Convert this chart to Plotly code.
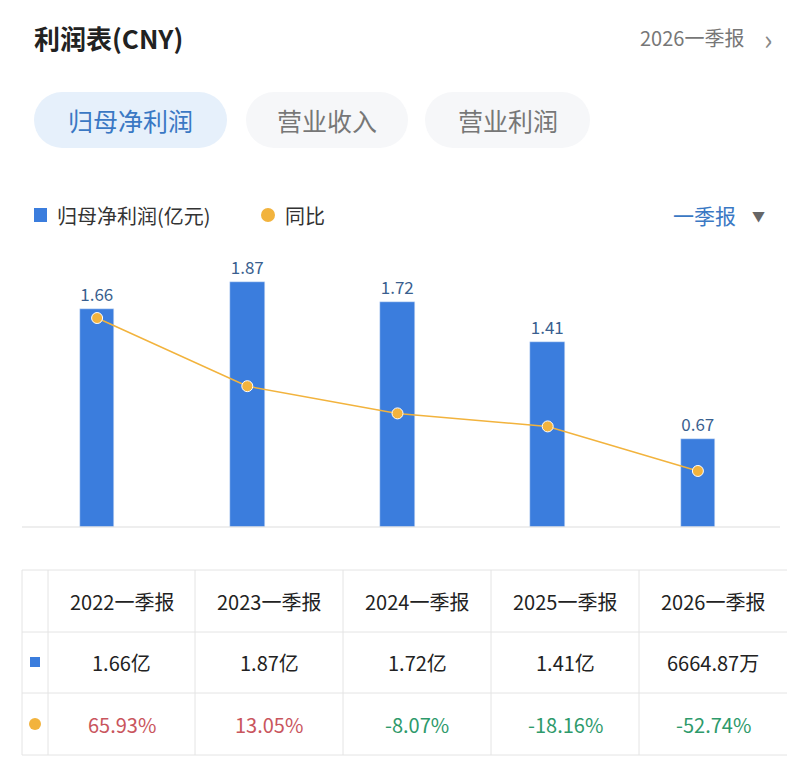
import plotly.graph_objects as go

periods = ["2022一季报", "2023一季报", "2024一季报", "2025一季报", "2026一季报"]
profit = [1.66, 1.87, 1.72, 1.41, 0.67]
profit_text = ["1.66亿", "1.87亿", "1.72亿", "1.41亿", "6664.87万"]
yoy = [65.93, 13.05, -8.07, -18.16, -52.74]

W, H = 804, 781
FONT = "Noto Sans CJK SC"
BLUE = "#3b7ddd"
ORANGE = "#f2b33d"


def py(p):
    return 1 - p / H


def px(p):
    return p / W


fig = go.Figure()
fig.add_trace(go.Bar(
    x=periods, y=profit, marker_color=BLUE, width=0.23,
    text=[f"{v:.2f}" for v in profit], textposition="outside",
    textfont=dict(color="#3a5f8f", size=17, family=FONT), cliponaxis=False,
))
fig.add_trace(go.Scatter(
    x=periods, y=yoy, yaxis="y2", mode="lines+markers",
    line=dict(color=ORANGE, width=1.5),
    marker=dict(color=ORANGE, size=11, line=dict(color="white", width=1)),
))

fig.update_layout(
    width=W, height=H, margin=dict(l=0, r=0, t=0, b=0),
    paper_bgcolor="white", plot_bgcolor="white", showlegend=False,
    font=dict(family=FONT),
    bargap=0,
    xaxis=dict(domain=[px(22), px(773)], range=[-0.5, 4.5], visible=False),
    yaxis=dict(domain=[py(527), py(250)], range=[0, 2.114], visible=False),
    yaxis2=dict(overlaying="y", range=[-96.2, 118.7], visible=False),
)

shapes = [
    dict(type="line", xref="paper", yref="paper", x0=px(22), x1=px(780),
         y0=py(527), y1=py(527), line=dict(color="#dddddd", width=1)),
]
ann = []


def text(x, y, s, size, color, xanchor="center"):
    ann.append(dict(xref="paper", yref="paper", x=px(x), y=py(y), text=s,
                    showarrow=False, xanchor=xanchor, yanchor="middle",
                    font=dict(size=size, color=color, family=FONT)))


# header
text(32, 38, "<b>利润表(CNY)</b>", 26, "#222222", "left")
text(746, 38, "2026一季报", 20, "#777777", "right")
text(768, 38, "›", 28, "#888888", "center")

# tabs (pill shaped)
tabs = [("归母净利润", 34, 227, "#e6f0fb", "#3a78c4"),
        ("营业收入", 246, 408, "#f6f7f9", "#777777"),
        ("营业利润", 425, 590, "#f6f7f9", "#777777")]
for label, x0, x1, bg, fg in tabs:
    r = 28
    shapes.append(dict(type="rect", xref="paper", yref="paper", x0=px(x0 + r), x1=px(x1 - r),
                       y0=py(148), y1=py(92), fillcolor=bg, line=dict(width=0), layer="below"))
    shapes.append(dict(type="circle", xref="paper", yref="paper", x0=px(x0), x1=px(x0 + 2 * r),
                       y0=py(148), y1=py(92), fillcolor=bg, line=dict(width=0), layer="below"))
    shapes.append(dict(type="circle", xref="paper", yref="paper", x0=px(x1 - 2 * r), x1=px(x1),
                       y0=py(148), y1=py(92), fillcolor=bg, line=dict(width=0), layer="below"))
    text((x0 + x1) / 2, 120, label, 25, fg)

# legend
shapes.append(dict(type="rect", xref="paper", yref="paper", x0=px(34), x1=px(47),
                   y0=py(222), y1=py(208), fillcolor=BLUE, line=dict(width=0)))
text(55, 215, "归母净利润(亿元)", 20, "#333333", "left")
shapes.append(dict(type="circle", xref="paper", yref="paper", x0=px(261), x1=px(275),
                   y0=py(222), y1=py(208), fillcolor=ORANGE, line=dict(width=0)))
text(283, 215, "同比", 20, "#333333", "left")
text(738, 215, "一季报", 21, "#3a78c4", "right")
text(758, 215, "▼", 13, "#666666")

# table
cols = [22, 48, 195, 343, 491, 639, 787]
rows = [570, 632, 693, 755]
for yv in rows:
    shapes.append(dict(type="line", xref="paper", yref="paper", x0=px(cols[0]), x1=px(cols[-1]),
                       y0=py(yv), y1=py(yv), line=dict(color="#e4e4e4", width=1)))
for xv in cols[:-1]:
    shapes.append(dict(type="line", xref="paper", yref="paper", x0=px(xv), x1=px(xv),
                       y0=py(rows[0]), y1=py(rows[-1]), line=dict(color="#e4e4e4", width=1)))
for i in range(5):
    cx = (cols[i + 1] + cols[i + 2]) / 2
    text(cx, 601, periods[i], 20, "#222222")
    text(cx, 662, profit_text[i], 20, "#222222")
    color = "#c9555d" if yoy[i] >= 0 else "#2e9a6b"
    text(cx, 724, f"{yoy[i]:.2f}%", 20, color)
shapes.append(dict(type="rect", xref="paper", yref="paper", x0=px(30), x1=px(40),
                   y0=py(667), y1=py(657), fillcolor=BLUE, line=dict(width=0)))
shapes.append(dict(type="circle", xref="paper", yref="paper", x0=px(29), x1=px(41),
                   y0=py(730), y1=py(718), fillcolor=ORANGE, line=dict(width=0)))

fig.update_layout(shapes=shapes, annotations=ann)
fig.write_html("out.html", config={"displayModeBar": False},
               post_script="document.body.style.margin='0';")
